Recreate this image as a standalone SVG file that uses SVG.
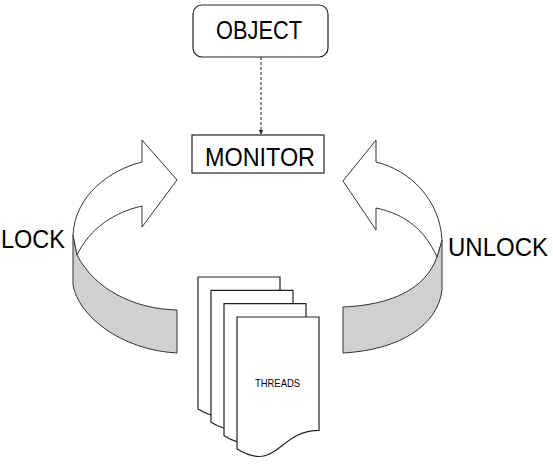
<svg xmlns="http://www.w3.org/2000/svg" width="553" height="467" viewBox="0 0 553 467">
<style>
.lbl{font-family:"Liberation Sans",Arial,sans-serif;font-size:25px;fill:#000}
.small{font-family:"Liberation Sans",Arial,sans-serif;font-size:11px;fill:#000}
.face{fill:#fff;stroke:#333;stroke-width:1}
.band{fill:#d0d0d0;stroke:#333;stroke-width:1}
.page{fill:#fff;stroke:#222;stroke-width:1.2}
.box{fill:#fff;stroke:#222;stroke-width:1.2}
</style>
<defs>
<marker id="ah" viewBox="0 0 10 10" refX="9" refY="5" markerWidth="5" markerHeight="5" orient="auto" markerUnits="userSpaceOnUse">
<path d="M0,0 L10,5 L0,10 Z" fill="#333"/>
</marker>
<path id="pg" d="M0,0 H82 V113.3 C41,113.3 41,156.5 0,132 Z"/>
</defs>
<rect width="553" height="467" fill="#fff"/>
<g id="connectors">
<line x1="261" y1="57" x2="261" y2="134" stroke="#444" stroke-width="1.2" stroke-dasharray="3,2" marker-end="url(#ah)"/>
</g>
<g id="object">
<rect class="box" x="193" y="5" width="135" height="52" rx="9" stroke="#444"/>
<text class="lbl" x="259" y="39" text-anchor="middle" textLength="86" lengthAdjust="spacingAndGlyphs">OBJECT</text>
</g>
<g id="monitor">
<rect class="box" x="192" y="135" width="132" height="38"/>
<text class="lbl" x="260" y="166" text-anchor="middle" textLength="110" lengthAdjust="spacingAndGlyphs">MONITOR</text>
</g>
<g id="lock">
<path class="band" d="M73,235 L73,285 C78,315 120,350 177,353 L177,310 C135,309 95,290 77,255 Z"/>
<path class="face" d="M142,162 C110,170 75,195 73,235 L77,255 C90,228 115,212 142,206 L142,227 L177,180 L142,140 Z"/>
<text class="lbl" x="1" y="248" textLength="64" lengthAdjust="spacingAndGlyphs">LOCK</text>
</g>
<g id="unlock">
<path class="band" d="M442,240 L442,290 C438,325 400,350 343,353 L343,307 C390,305 425,290 437,257 Z"/>
<path class="face" d="M376,162 C410,170 440,200 442,240 L437,257 C425,230 405,214 376,208 L376,230 L343,181 L376,140 Z"/>
<text class="lbl" x="448" y="256" textLength="100" lengthAdjust="spacingAndGlyphs">UNLOCK</text>
</g>
<g id="threads">
<use href="#pg" class="page" x="198" y="277"/>
<use href="#pg" class="page" x="211" y="290.3"/>
<use href="#pg" class="page" x="224" y="303.7"/>
<use href="#pg" class="page" x="237" y="317"/>
<text class="small" x="277.5" y="387" text-anchor="middle" textLength="45" lengthAdjust="spacingAndGlyphs">THREADS</text>
</g>
</svg>
